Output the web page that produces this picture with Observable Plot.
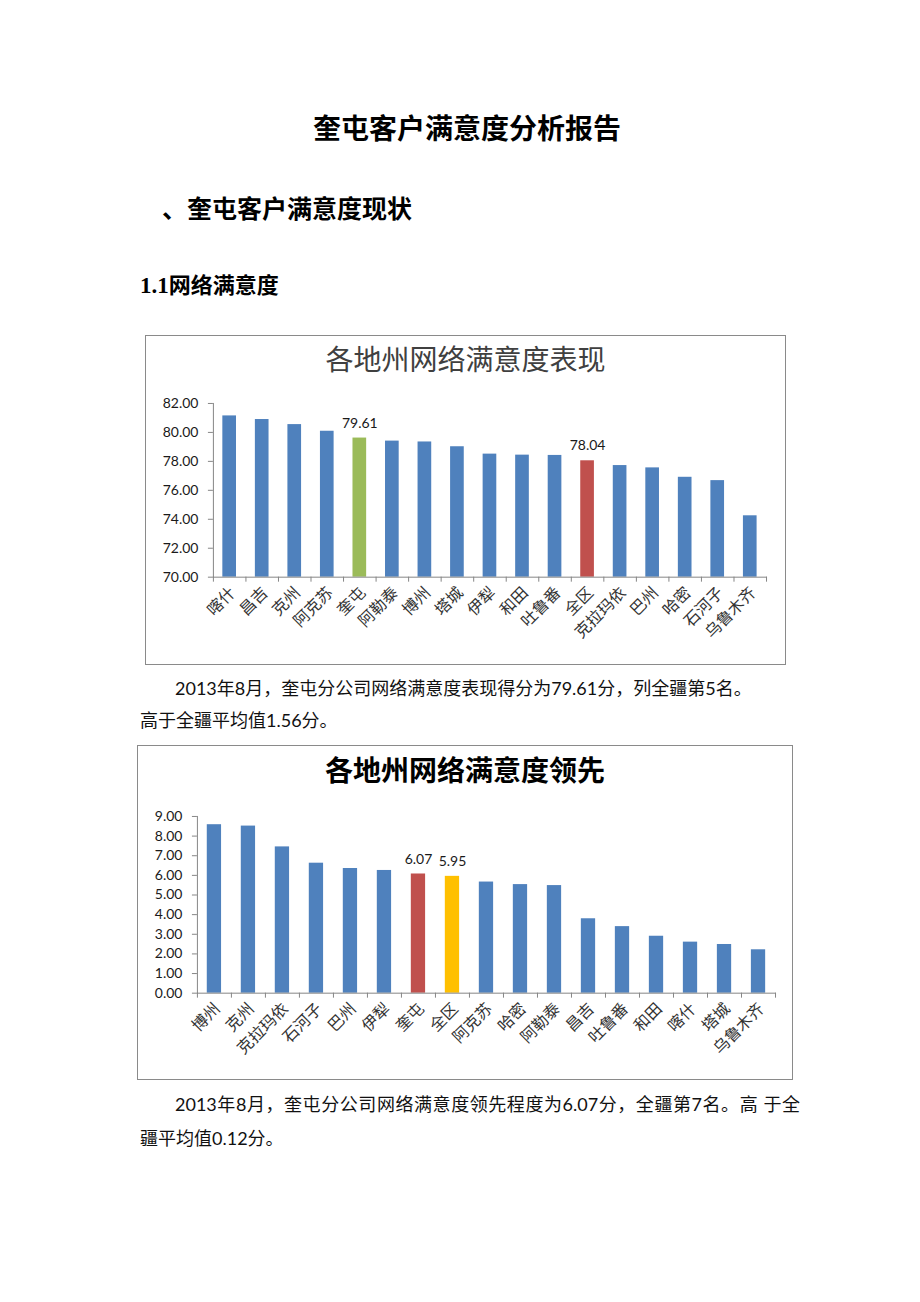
<!DOCTYPE html>
<html><head><meta charset="utf-8">
<script src="https://cdn.jsdelivr.net/npm/d3@7"></script>
<script src="https://cdn.jsdelivr.net/npm/@observablehq/plot@0.6"></script>
<style>
html,body{margin:0;padding:0;background:#fff;}
body{width:920px;height:1302px;position:relative;overflow:hidden;font-family:"Lato","Noto Sans CJK SC",sans-serif;color:#000;}
.abs{position:absolute;white-space:nowrap;}
.h{font-family:"Noto Sans CJK SC",sans-serif;font-weight:700;}
.p{font-size:18px;line-height:24px;font-family:"Lato","Noto Sans CJK SC",sans-serif;color:#111;}
.box{position:absolute;box-sizing:border-box;border:1px solid #8a8a8a;background:#fff;}
.ctitle{position:absolute;left:0;right:0;text-align:center;font-size:28px;line-height:34px;font-family:"Noto Sans CJK SC",sans-serif;}
.chart{position:absolute;left:-1px;}
</style></head><body>

<div class="abs h" style="left:313px;top:110px;font-size:28px;line-height:34px;">奎屯客户满意度分析报告</div>
<div class="abs h" style="left:162px;top:192px;font-size:25px;line-height:30px;">、奎屯客户满意度现状</div>
<div class="abs h" style="left:140px;top:270px;font-size:22px;line-height:26px;"><span style="font-family:'Liberation Serif',serif;font-weight:700;font-size:23px;">1.1</span>网络满意度</div>

<div class="box" id="box1" style="left:145px;top:335px;width:641px;height:330px;">
  <div class="ctitle" style="top:5px;font-weight:400;color:#404040;">各地州网络满意度表现</div>
  <div class="chart" id="chart1" style="top:39px;"></div>
</div>

<div class="abs p" style="left:175px;top:676px;">2013年8月，奎屯分公司网络满意度表现得分为79.61分，列全疆第5名。</div>
<div class="abs p" style="left:140px;top:708px;">高于全疆平均值1.56分。</div>

<div class="box" id="box2" style="left:137px;top:745px;width:656px;height:335px;">
  <div class="ctitle" style="top:6px;font-weight:700;color:#000;">各地州网络满意度领先</div>
  <div class="chart" id="chart2" style="top:44px;"></div>
</div>

<div class="abs p" style="left:175px;top:1092px;width:625px;white-space:normal;text-align:justify;text-align-last:justify;">2013年8月，奎屯分公司网络满意度领先程度为6.07分，全疆第7名。高 于全</div>
<div class="abs p" style="left:140px;top:1126px;">疆平均值0.12分。</div>

<script>
// ---- Data: 各地州网络满意度表现 ----
const regions1 = ["喀什","昌吉","克州","阿克苏","奎屯","阿勒泰","博州","塔城","伊犁","和田","吐鲁番","全区","克拉玛依","巴州","哈密","石河子","乌鲁木齐"];
const values1  = [81.14, 80.89, 80.54, 80.08, 79.61, 79.40, 79.34, 79.01, 78.50, 78.43, 78.41, 78.04, 77.71, 77.55, 76.90, 76.67, 74.24];
const yTicks1  = [70, 72, 74, 76, 78, 80, 82];

// ---- Data: 各地州网络满意度领先 ----
const regions2 = ["博州","克州","克拉玛依","石河子","巴州","伊犁","奎屯","全区","阿克苏","哈密","阿勒泰","昌吉","吐鲁番","和田","喀什","塔城","乌鲁木齐"];
const values2  = [8.58, 8.51, 7.45, 6.62, 6.35, 6.25, 6.07, 5.95, 5.66, 5.53, 5.48, 3.79, 3.39, 2.90, 2.60, 2.48, 2.21];
const yTicks2  = [0, 1, 2, 3, 4, 5, 6, 7, 8, 9];

const labeled = ["奎屯", "全区"];

const BLUE = "#4F81BD", GREEN = "#9BBB59", RED = "#C0504D", GOLD = "#FFC000";
const AXIS = "#868686";

function barChart({regions, values, yTicks, colorOf, width, height, marginLeft, marginRight, marginTop, marginBottom}) {
  const data = regions.map((r, i) => ({region: r, value: values[i]}));
  const yMin = yTicks[0], yMax = yTicks[yTicks.length - 1];
  const step = (width - marginLeft - marginRight) / regions.length;
  return Plot.plot({
    width, height, marginLeft, marginRight, marginTop, marginBottom,
    style: {background: "transparent", fontFamily: "Lato, 'Noto Sans CJK SC', sans-serif", fontSize: "14px", color: "#222"},
    x: {domain: regions, paddingInner: 0.58, paddingOuter: 0.29, round: false, label: null},
    y: {domain: [yMin, yMax], label: null},
    color: {type: "identity"},
    marks: [
      Plot.barY(data, {x: "region", y1: yMin, y2: "value", fill: d => colorOf(d.region)}),
      Plot.frame({anchor: "left", stroke: AXIS}),
      Plot.frame({anchor: "bottom", stroke: AXIS}),
      Plot.axisY({ticks: yTicks, tickSize: 5, tickPadding: 10, tickFormat: d => d.toFixed(2), stroke: AXIS, fill: "#1a1a1a", fontSize: 14}),
      Plot.axisX({tickSize: 5, stroke: AXIS, fill: "none", dx: -step / 2}),
      Plot.axisX([regions[regions.length - 1]], {tickSize: 5, stroke: AXIS, fill: "none", dx: step / 2}),
      Plot.axisX({tickSize: 0, tickPadding: 13, tickRotate: -45, dx: 3, fill: "#333", fontSize: 16, fontFamily: "'Noto Sans CJK SC', sans-serif"}),
      Plot.text(data.filter(d => labeled.includes(d.region)), {x: "region", y: "value", text: d => d.value.toFixed(2), dy: -15, fontSize: 14, fill: "#1a1a1a"})
    ]
  });
}

document.getElementById("chart1").appendChild(barChart({
  regions: regions1, values: values1, yTicks: yTicks1,
  colorOf: r => r === "奎屯" ? GREEN : r === "全区" ? RED : BLUE,
  width: 641, height: 277, marginLeft: 68, marginRight: 19, marginTop: 28, marginBottom: 75
}));

document.getElementById("chart2").appendChild(barChart({
  regions: regions2, values: values2, yTicks: yTicks2,
  colorOf: r => r === "奎屯" ? RED : r === "全区" ? GOLD : BLUE,
  width: 656, height: 283, marginLeft: 60, marginRight: 17, marginTop: 26, marginBottom: 80
}));
</script>
</body></html>
